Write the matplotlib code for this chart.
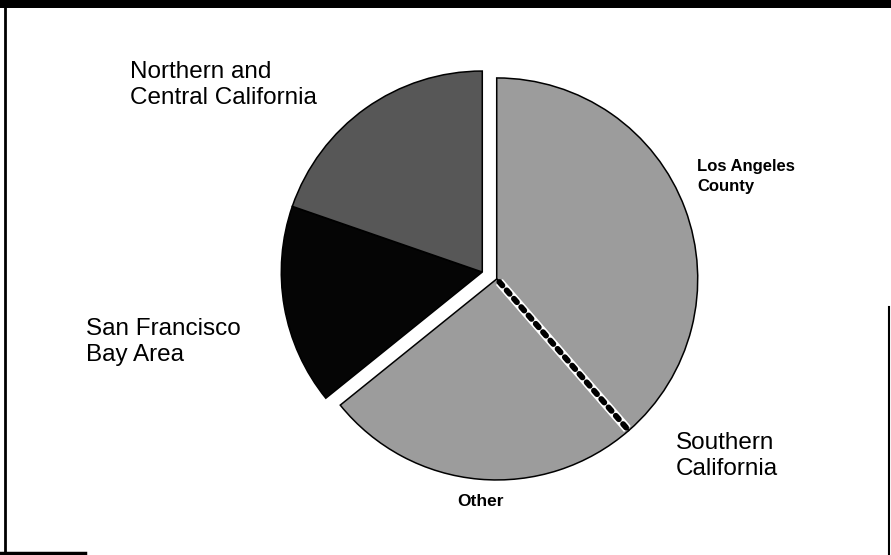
"""Regional shares pie chart (scanned report figure, redrawn)."""

import numpy as np
import matplotlib

matplotlib.use("Agg")
import matplotlib.pyplot as plt

W, H = 891, 555

# slices, clockwise from 12 o'clock
regions = ["Los Angeles County", "Other", "San Francisco Bay Area",
           "Northern and Central California"]
shares = [38.6, 25.6, 16.1, 19.7]
groups = ["Southern California", "Southern California", "North", "North"]
colors = ["#9c9c9c", "#9c9c9c", "#050505", "#575757"]

plt.rcParams["font.family"] = ["Liberation Sans", "DejaVu Sans"]

fig = plt.figure(figsize=(W / 100, H / 100), dpi=100)
ax = fig.add_axes([0, 0, 1, 1])

cx, cy, r = 489.5, H - 275.5, 201
gap = 8.0

wedges, _ = ax.pie(shares, startangle=90, counterclock=False, colors=colors,
                   center=(cx, cy), radius=r, frame=True,
                   wedgeprops=dict(edgecolor="black", linewidth=1.1))
ax.set_xlim(0, W)
ax.set_ylim(0, H)
ax.set_aspect("equal")
ax.axis("off")

# pull the two groups apart along their bisectors
total = sum(shares)
start = 90.0
bounds = []
for s in shares:
    end = start - 360 * s / total
    bounds.append((start, end))
    start = end

centers = {}
for g in set(groups):
    idx = [i for i, gg in enumerate(groups) if gg == g]
    a0, a1 = bounds[idx[0]][0], bounds[idx[-1]][1]
    mid = np.deg2rad((a0 + a1) / 2)
    centers[g] = (cx + gap * np.cos(mid), cy + gap * np.sin(mid))
for w, g in zip(wedges, groups):
    w.set_center(centers[g])

# dotted divider between LA County and Other
sc = centers["Southern California"]
th = np.deg2rad(bounds[0][1])
xs = [sc[0] + 4 * np.cos(th), sc[0] + (r - 2) * np.cos(th)]
ys = [sc[1] + 4 * np.sin(th), sc[1] + (r - 2) * np.sin(th)]
ax.plot(xs, ys, color="white", lw=6.5, solid_capstyle="butt", zorder=5)
ax.plot(xs, ys, color="black", lw=4.2, dashes=(0.8, 1.1),
        dash_capstyle="round", zorder=6)

# labels
big = 17.5
ax.text(130, H - 61, "Northern and\nCentral California", fontsize=big,
        va="top", ha="left", linespacing=1.25)
ax.text(86, H - 318, "San Francisco\nBay Area", fontsize=big,
        va="top", ha="left", linespacing=1.25)
ax.text(676, H - 432, "Southern\nCalifornia", fontsize=big,
        va="top", ha="left", linespacing=1.25)
ax.text(697, H - 159, "Los Angeles\nCounty", fontsize=12, fontweight="bold",
        va="top", ha="left", linespacing=1.4)
ax.text(480, H - 501, "Other", fontsize=12.5, fontweight="bold",
        va="center", ha="center")

# frame remnants from the scanned page
ax.fill_between([0, W], H - 8, H, color="black", lw=0)
ax.plot([5, 5], [0, H - 8], color="black", lw=2)
ax.plot([889, 889], [0, H - 307], color="black", lw=1.5)
ax.plot([0, 85], [2, 2], color="black", lw=2.5)

fig.savefig("out.png", dpi=100)
